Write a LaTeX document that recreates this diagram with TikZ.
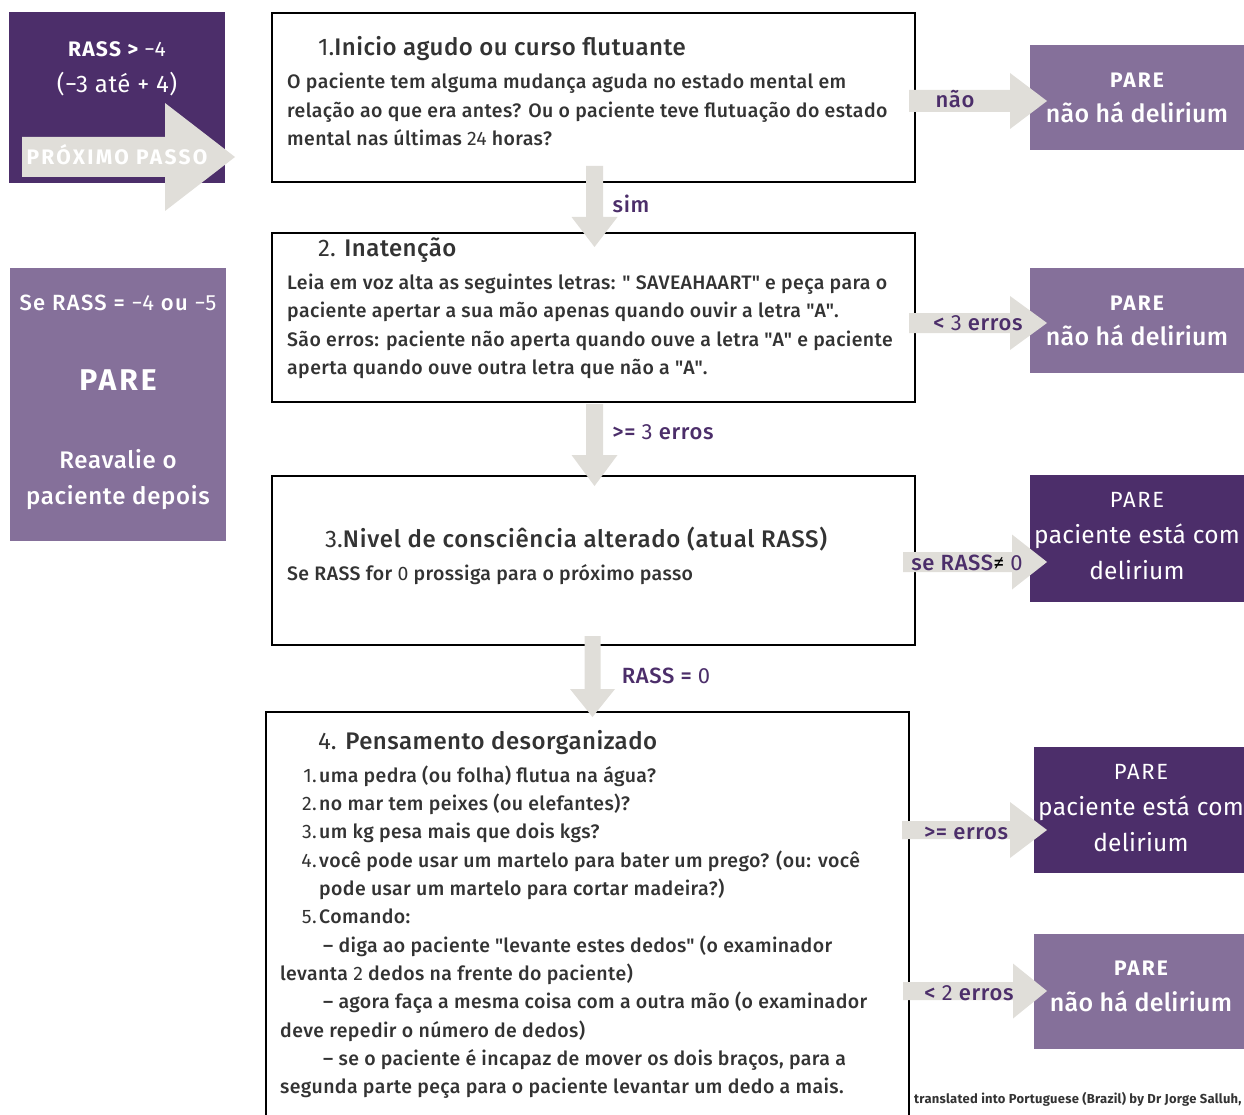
\documentclass[tikz,border=0pt]{standalone}
\usepackage{fontspec}
\setmainfont{Fira Sans Medium}[BoldFont={Fira Sans Bold}]
\newfontfamily\regf{Fira Sans}
\newcommand\dg[1]{{\regf\mdseries #1}}
\newcommand\q{\textquotedbl}
\newcommand\fs[1]{\fontsize{#1}{#1}\selectfont}
\newcommand\ls[1]{\addfontfeature{LetterSpace=#1}}
\definecolor{dkp}{HTML}{4C2E6A}
\definecolor{mdp}{HTML}{85709A}
\definecolor{agr}{HTML}{E0DED9}
\definecolor{txt}{HTML}{333333}
\newcommand\rarrow[7]{\fill[agr] (#1,#5-#6) -- (#2,#5-#6) -- (#2,#5-#7) -- (#3,#5) -- (#2,#5+#7) -- (#2,#5+#6) -- (#1,#5+#6) -- cycle;}
\newcommand\darrow[7]{\fill[agr] (#5-#6,#1) -- (#5-#6,#2) -- (#5-#7,#2) -- (#5,#3) -- (#5+#7,#2) -- (#5+#6,#2) -- (#5+#6,#1) -- cycle;}
\tikzset{
  stepbox/.style={draw=black, line width=2pt, fill=white, anchor=north west, inner sep=0pt},
  dkbox/.style={fill=dkp, anchor=north west, inner sep=0pt},
  mdbox/.style={fill=mdp, anchor=north west, inner sep=0pt},
  wt/.style={text=white, inner sep=0pt, anchor=mid, yshift=-5pt},
  ttl/.style={text=txt, inner sep=0pt, anchor=mid west, yshift=-5pt, font=\fs{24}\ls{2}},
  body/.style={text=txt, inner sep=0pt, anchor=mid west, yshift=-5pt, font=\fs{19.5}\ls{2}},
  num/.style={text=txt, inner sep=0pt, anchor=mid east, yshift=-5pt, font=\regf\fs{19.5}\ls{2}},
  lbl/.style={text=dkp, inner sep=0pt, anchor=mid, yshift=-5pt, font=\fs{22}\ls{3}},
}
\begin{document}
\begin{tikzpicture}[x=1pt,y=-1pt]
\useasboundingbox (0,0) rectangle (1244,1115);
\clip (0,0) rectangle (1244,1115);
% left boxes
\node[dkbox, minimum width=216pt, minimum height=171pt] (lt) at (9,12) {};
\node[mdbox, minimum width=216pt, minimum height=273pt] (lb) at (10,268) {};
% step boxes
\node[stepbox, minimum width=643pt, minimum height=169pt] (b1) at (271,12) {};
\node[stepbox, minimum width=643pt, minimum height=169pt] (b2) at (271,232) {};
\node[stepbox, minimum width=643pt, minimum height=169pt] (b3) at (271,475) {};
\node[stepbox, minimum width=643pt, minimum height=430pt] (b4) at (265,711) {};
% right boxes
\node[mdbox, minimum width=214pt, minimum height=105pt] (r1) at (1030,45) {};
\node[mdbox, minimum width=214pt, minimum height=105pt] (r2) at (1030,268) {};
\node[dkbox, minimum width=214pt, minimum height=127pt] (r3) at (1030,475) {};
\node[dkbox, minimum width=210pt, minimum height=126pt] (r4) at (1034,747) {};
\node[mdbox, minimum width=210pt, minimum height=115pt] (r5) at (1034,934) {};
% block arrows
\rarrow{22}{165}{235}{0}{157}{20}{54}
\darrow{166}{217}{247}{0}{594.5}{8.5}{23}
\darrow{404}{455}{486}{0}{594.5}{8.5}{23}
\darrow{636}{689}{717}{0}{592.5}{8}{22.5}
\rarrow{909}{1010}{1047}{0}{101}{11}{28}
\rarrow{909}{1010}{1047}{0}{323}{10}{27}
\rarrow{903}{1012}{1047}{0}{562}{10}{27.5}
\rarrow{902}{1010}{1047}{0}{830}{9}{28}
\rarrow{903}{1013}{1047}{0}{991}{9}{27.5}
% top-left texts
\node[wt, font=\bfseries\fs{21}\ls{6}] (t1) at (117,49) {RASS > \dg{−4}};
\node[wt, font=\regf\fs{24}\ls{2}] (t2) at (117,85) {(−3 até + 4)};
\node[wt, font=\bfseries\fs{21}\ls{11}] (t3) at (117,157) {PRÓXIMO PASSO};
% left-bottom texts
\node[wt, font=\fs{22}\ls{6}] (l1) at (118,303) {Se RASS = \dg{−4} ou \dg{−5}};
\node[wt, font=\bfseries\fs{30}\ls{10}] (l2) at (118,383) {PARE};
\node[wt, font=\fs{24}\ls{3}] (l3) at (118,461) {Reavalie o};
\node[wt, font=\fs{24}\ls{3}] (l4) at (118,497) {paciente depois};
% box 1
\node[ttl] (h1) at (318,48) {\dg{1.}Inicio agudo ou curso flutuante};
\node[body] (p11) at (287,81) {O paciente tem alguma mudança aguda no estado mental em};
\node[body] (p12) at (287,110) {relação ao que era antes? Ou o paciente teve flutuação do estado};
\node[body] (p13) at (287,138) {mental nas últimas \dg{24} horas?};
% box 2
\node[ttl] (h2) at (318,249) {\dg{2.} Inatenção};
\node[body] (p21) at (287,282) {Leia em voz alta as seguintes letras: \q\ SAVEAHAART\q\ e peça para o};
\node[body] (p22) at (287,310) {paciente apertar a sua mão apenas quando ouvir a letra \q A\q.};
\node[body] (p23) at (287,339) {São erros: paciente não aperta quando ouve a letra \q A\q\ e paciente};
\node[body] (p24) at (287,367) {aperta quando ouve outra letra que não a \q A\q.};
% box 3
\node[ttl, font=\fs{24}\ls{3}] (h3) at (325,540) {\dg{3.}Nivel de consciência alterado (atual RASS)};
\node[body] (p31) at (287,573) {Se RASS for \dg{0} prossiga para o próximo passo};
% box 4
\node[ttl] (h4) at (318,742) {\dg{4.} Pensamento desorganizado};
\node[num] (n1) at (317,775) {1.};
\node[body] (q1) at (319,775) {uma pedra (ou folha) flutua na água?};
\node[num] (n2) at (317,803) {2.};
\node[body] (q2) at (319,803) {no mar tem peixes (ou elefantes)?};
\node[num] (n3) at (317,831) {3.};
\node[body] (q3) at (319,831) {um kg pesa mais que dois kgs?};
\node[num] (n4) at (317,860) {4.};
\node[body] (q4) at (319,860) {você pode usar um martelo para bater um prego? (ou: você};
\node[body] (q4b) at (319,888) {pode usar um martelo para cortar madeira?)};
\node[num] (n5) at (317,916) {5.};
\node[body] (q5) at (319,916) {Comando:};
\node[body] (c1) at (323,945) {– diga ao paciente \q levante estes dedos\q\ (o examinador};
\node[body] (c1b) at (280,973) {levanta \dg{2} dedos na frente do paciente)};
\node[body] (c2) at (323,1001) {– agora faça a mesma coisa com a outra mão (o examinador};
\node[body] (c2b) at (280,1030) {deve repedir o número de dedos)};
\node[body] (c3) at (323,1058) {– se o paciente é incapaz de mover os dois braços, para a};
\node[body] (c3b) at (280,1086) {segunda parte peça para o paciente levantar um dedo a mais.};
% right box texts
\node[wt, font=\bfseries\fs{21}\ls{10}] (s1a) at (1137,80) {PARE};
\node[wt, font=\fs{25}\ls{1}] (s1b) at (1137,115) {não há delirium};
\node[wt, font=\bfseries\fs{21}\ls{10}] (s2a) at (1137,303) {PARE};
\node[wt, font=\fs{25}\ls{1}] (s2b) at (1137,338) {não há delirium};
\node[wt, font=\regf\fs{22}\ls{8}] (s3a) at (1137,500) {PARE};
\node[wt, font=\regf\fs{24.5}\ls{1}] (s3b) at (1137,536) {paciente está com};
\node[wt, font=\regf\fs{24.5}\ls{1}] (s3c) at (1137,572) {delirium};
\node[wt, font=\regf\fs{22}\ls{8}] (s4a) at (1141,772) {PARE};
\node[wt, font=\regf\fs{24.5}\ls{1}] (s4b) at (1141,808) {paciente está com};
\node[wt, font=\regf\fs{24.5}\ls{1}] (s4c) at (1141,844) {delirium};
\node[wt, font=\bfseries\fs{21}\ls{10}] (s5a) at (1141,968) {PARE};
\node[wt, font=\fs{25}\ls{1}] (s5b) at (1141,1004) {não há delirium};
% arrow labels
\node[lbl] (a1) at (955,100) {não};
\node[lbl] (a2) at (631,205) {sim};
\node[lbl] (a3) at (978,323) {< \dg{3} erros};
\node[lbl] (a4) at (663,432) {>= \dg{3} erros};
\node[lbl] (a5) at (967,563) {se RASS{\regf\color{black}≠} \dg{0}};
\node[lbl] (a6) at (666,676) {RASS = \dg{0}};
\node[lbl] (a7) at (966,832) {>= erros};
\node[lbl] (a8) at (969,993) {< \dg{2} erros};
% credit
\node[text=txt, inner sep=0pt, anchor=mid west, yshift=-3pt, font=\bfseries\fs{13}\ls{2}] (cr) at (914,1098) {translated into Portuguese (Brazil) by Dr Jorge Salluh,};
\end{tikzpicture}
\end{document}
